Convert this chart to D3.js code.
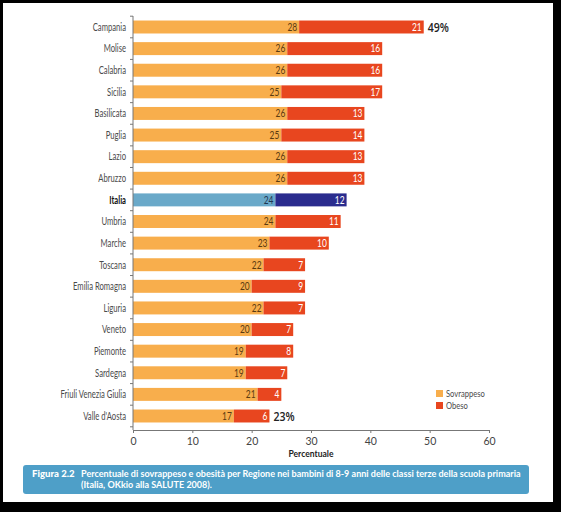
<!DOCTYPE html>
<html><head><meta charset="utf-8">
<script src="https://cdn.jsdelivr.net/npm/d3@7"></script>
<style>
html,body{margin:0;padding:0;background:#000;}
svg{display:block;}
</style></head>
<body>
<svg id="c" width="561" height="512"></svg>
<script>
const regions = ["Campania","Molise","Calabria","Sicilia","Basilicata","Puglia","Lazio","Abruzzo","Italia","Umbria","Marche","Toscana","Emilia Romagna","Liguria","Veneto","Piemonte","Sardegna","Friuli Venezia Giulia","Valle d'Aosta"];
const sovrappeso = [28,26,26,25,26,25,26,26,24,24,23,22,20,22,20,19,19,21,17];
const obeso = [21,16,16,17,13,14,13,13,12,11,10,7,9,7,7,8,7,4,6];
const xTicks = [0,10,20,30,40,50,60];
const totalLabels = {"Campania":"49%","Valle d'Aosta":"23%"};
const seriesNames = ["Sovrappeso","Obeso"];
const captionTitle = "Figura 2.2";
const captionLines = ["Percentuale di sovrappeso e obesità per Regione nei bambini di 8-9 anni delle classi terze della scuola primaria","(Italia, OKkio alla SALUTE 2008)."];

const font = "Lato,'Open Sans',sans-serif";
const SX = 0.8; // horizontal condensing
const SXC = 0.73;
const svg = d3.select("#c");
svg.append("rect").attr("x",3).attr("y",3).attr("width",550).attr("height",499).attr("fill","#fff");

const x = d3.scaleLinear().domain([0,60]).range([133,489]);
const y = d3.scaleBand().domain(regions).range([16.2,426.8]).paddingInner(0.4).paddingOuter(0.2);

const colOrange="#F8AE4C", colRed="#E8461F", colLightBlue="#6AA9C9", colDarkBlue="#2A2C8E";

const data = regions.map((r,i)=>({r, a:sovrappeso[i], b:obeso[i], it:r==="Italia"}));
const cy = d=>y(d.r)+y.bandwidth()/2;

const g = svg.append("g");
g.selectAll("rect.a").data(data).join("rect").attr("class","a")
  .attr("x",x(0)).attr("y",d=>y(d.r)).attr("height",y.bandwidth())
  .attr("width",d=>x(d.a)-x(0)).attr("fill",d=>d.it?colLightBlue:colOrange);
g.selectAll("rect.b").data(data).join("rect").attr("class","b")
  .attr("x",d=>x(d.a)).attr("y",d=>y(d.r)).attr("height",y.bandwidth())
  .attr("width",d=>x(d.a+d.b)-x(d.a)).attr("fill",d=>d.it?colDarkBlue:colRed);

g.selectAll("text.va").data(data).join("text").attr("class","va")
  .attr("transform",d=>`translate(${x(d.a)-2},${cy(d)}) scale(${SX},1)`).attr("dy","0.36em")
  .attr("text-anchor","end").attr("font-family",font).attr("font-size",10.5)
  .attr("fill",d=>d.it?"#1f3550":"#5a3a10").text(d=>d.a);
g.selectAll("text.vb").data(data).join("text").attr("class","vb")
  .attr("transform",d=>`translate(${x(d.a+d.b)-2},${cy(d)}) scale(${SX},1)`).attr("dy","0.36em")
  .attr("text-anchor","end").attr("font-family",font).attr("font-size",10.5)
  .attr("fill","#fff").text(d=>d.b);

g.selectAll("text.tot").data(data.filter(d=>totalLabels[d.r])).join("text").attr("class","tot")
  .attr("transform",d=>`translate(${x(d.a+d.b)+4},${cy(d)}) scale(0.88,1)`).attr("dy","0.38em")
  .attr("font-family","'Open Sans',sans-serif").attr("font-size",12).attr("font-weight","600")
  .attr("fill","#222").text(d=>totalLabels[d.r]);

// category labels
g.selectAll("text.cat").data(data).join("text").attr("class","cat")
  .attr("transform",d=>`translate(126,${cy(d)}) scale(${SXC},1)`).attr("dy","0.36em")
  .attr("text-anchor","end").attr("font-family",font).attr("font-size",10.5)
  .attr("font-weight",d=>d.it?"bold":"normal")
  .attr("fill",d=>d.it?"#111":"#4a4a4a").text(d=>d.r);

// y axis line and ticks between categories
const yTop = 16, yBot = 430;
svg.append("line").attr("x1",x(0)).attr("x2",x(0)).attr("y1",yTop).attr("y2",yBot).attr("stroke","#777").attr("stroke-width",1);
const bounds = d3.range(regions.length+1).map(i=>y(regions[0]) - y.step()*0.2 + i*y.step());
svg.selectAll("line.yt").data(bounds).join("line").attr("class","yt")
  .attr("x1",x(0)-3).attr("x2",x(0)).attr("y1",d=>d).attr("y2",d=>d).attr("stroke","#777");

// x axis
const xa = svg.append("g").attr("transform",`translate(0,${yBot})`)
  .call(d3.axisBottom(x).tickValues(xTicks).tickSize(3).tickSizeOuter(0));
xa.select(".domain").attr("stroke","#777");
xa.selectAll(".tick line").attr("stroke","#777");
xa.selectAll(".tick text").attr("font-family",font).attr("font-size",10.5).attr("fill","#444").attr("dy","0.9em");

svg.append("text").attr("transform",`translate(${x(30)},457) scale(0.9,1)`).attr("text-anchor","middle")
  .attr("font-family",font).attr("font-size",9.5).attr("font-weight","bold").attr("fill","#222").text("Percentuale");

// legend
const lg = svg.append("g").attr("transform","translate(436,390)");
seriesNames.forEach((s,i)=>{
  lg.append("rect").attr("x",0).attr("y",i*12).attr("width",7).attr("height",7).attr("fill",i?colRed:colOrange);
  lg.append("text").attr("transform",`translate(10,${i*12+3.5}) scale(${SX},1)`).attr("dy","0.35em").attr("font-family",font)
    .attr("font-size",9.5).attr("fill","#4a4a4a").text(s);
});

// caption
svg.append("rect").attr("x",23).attr("y",465).attr("width",506).attr("height",29).attr("rx",3)
  .attr("fill","#4E9FC8");
const capFont = "Lato,'Open Sans',sans-serif";
svg.append("text").attr("x",32).attr("y",476.5).attr("font-family",capFont).attr("font-size",9.6)
  .attr("font-weight","900").attr("fill","#fff").text(captionTitle);
const c1 = svg.append("text").attr("font-family",capFont).attr("font-size",9.6)
  .attr("font-weight","bold").attr("fill","#fff").text(captionLines[0]);
const w1 = c1.node().getComputedTextLength();
const k = Math.min(1, 440 / w1);
c1.attr("transform",`translate(81,476.5) scale(${k},1)`);
svg.append("text").attr("font-family",capFont).attr("font-size",9.6)
  .attr("font-weight","bold").attr("fill","#fff").attr("transform",`translate(81,487.5) scale(${k},1)`).text(captionLines[1]);
</script>
</body></html>
